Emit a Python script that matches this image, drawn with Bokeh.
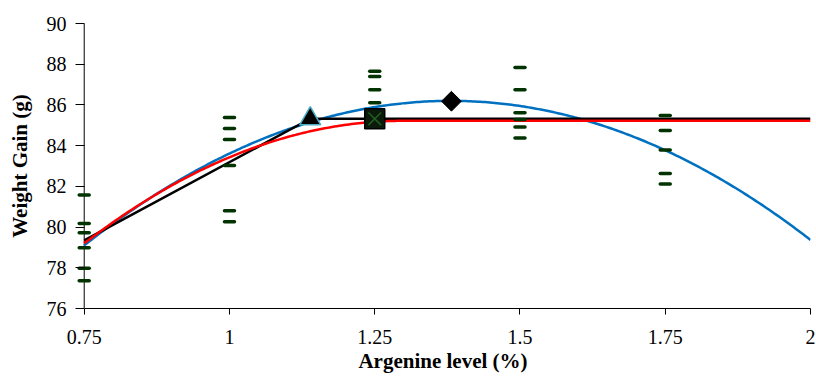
import numpy as np
from bokeh.plotting import figure
from bokeh.models import Range1d, FixedTicker
from bokeh.embed import file_html
from bokeh.resources import INLINE

# ---- observed data (replicates) ----
obs_x = [0.75]*6 + [1.0]*6 + [1.25]*4 + [1.5]*6 + [1.75]*5
obs_y = [81.57, 80.18, 79.72, 78.99, 77.98, 77.36,
         85.38, 84.84, 84.30, 83.03, 80.80, 80.26,
         87.65, 87.40, 86.75, 86.11,
         87.84, 86.75, 85.62, 85.29, 84.92, 84.38,
         85.48, 84.74, 83.78, 82.63, 82.11]

# ---- fitted models ----
# quadratic (blue): y = q_max - q_b*(x - q_h)^2
q_max, q_b, q_h = 86.2, 17.83, 1.381
# broken line (black)
bl_x = [0.75, 1.139, 2.0]
bl_y = [79.35, 85.32, 85.32]
# quadratic plateau (red): start, plateau, break point
qp_start, qp_plateau, qp_break = 79.2, 85.22, 1.30
# optimum markers
tri_x, tri_y = [1.139], [85.32]
sq_x, sq_y = [1.25], [85.32]
dia_x, dia_y = [1.382], [86.18]

x_ticks = [0.75, 1.0, 1.25, 1.5, 1.75, 2.0]
x_labels = {0.75: "0.75", 1.0: "1", 1.25: "1.25", 1.5: "1.5", 1.75: "1.75", 2.0: "2"}
y_ticks = [76, 78, 80, 82, 84, 86, 88, 90]

xs = np.linspace(0.75, 2.0, 300)
blue_y = q_max - q_b * (xs - q_h) ** 2
t = np.minimum(xs, qp_break) - 0.75
t0 = qp_break - 0.75
c = (qp_plateau - qp_start) / t0 ** 2
red_y = qp_start + 2 * c * t0 * t - c * t ** 2

FONT = "'Liberation Serif', 'Times New Roman', serif"

p = figure(width=816, height=378, output_backend="svg", toolbar_location=None,
           x_range=Range1d(0.735, 2.0), y_range=Range1d(76, 90),
           min_border_left=75, min_border_right=6, min_border_top=23, min_border_bottom=70)
p.outline_line_color = None
p.xgrid.visible = False
p.ygrid.visible = False

# y axis line at x = 0.75
p.segment(x0=[0.75], y0=[76], x1=[0.75], y1=[90], line_color="black", line_width=1)

p.line(xs, blue_y, line_color="#0070C0", line_width=2.5)
p.line(bl_x, bl_y, line_color="black", line_width=2.5)
p.line(xs, red_y, line_color="#FF0000", line_width=2.5)

p.scatter(obs_x, obs_y, marker="dash", size=10, line_width=3.5, line_cap="round",
          line_color="#003300")

p.scatter(tri_x, tri_y, marker="triangle", size=21, fill_color="black",
          line_color="#4BACC6", line_width=1.5)
p.scatter(sq_x, sq_y, marker="square", size=20, fill_color="#0b1a0b",
          line_color="black", line_width=1.5)
p.scatter(sq_x, sq_y, marker="x", size=18, line_color="#1f5f1f", line_width=1.5)
p.scatter(dia_x, dia_y, marker="square", size=14, angle=np.pi / 4,
          fill_color="black", line_color="black")

xa = p.xaxis[0]
xa.ticker = FixedTicker(ticks=x_ticks)
xa.major_label_overrides = x_labels
xa.bounds = (0.75, 2.0)
xa.axis_label = "Argenine level (%)"
xa.major_tick_in = 0
xa.major_tick_out = 6
xa.major_label_standoff = 15
xa.axis_label_standoff = 2

ya = p.yaxis[0]
ya.ticker = FixedTicker(ticks=y_ticks)
ya.axis_label = "Weight Gain (g)"
ya.axis_line_color = None
ya.major_tick_in = 9
ya.major_tick_out = 0
ya.major_label_standoff = 9
ya.axis_label_standoff = 12

for ax in (xa, ya):
    ax.minor_tick_line_color = None
    ax.major_tick_line_color = "black"
    ax.major_label_text_font = FONT
    ax.major_label_text_font_size = "20px"
    ax.major_label_text_color = "black"
    ax.axis_label_text_font = FONT
    ax.axis_label_text_font_size = "21px"
    ax.axis_label_text_font_style = "bold"
    ax.axis_label_text_color = "black"
xa.axis_line_color = "black"

open("out.html", "w").write(file_html(p, INLINE))
